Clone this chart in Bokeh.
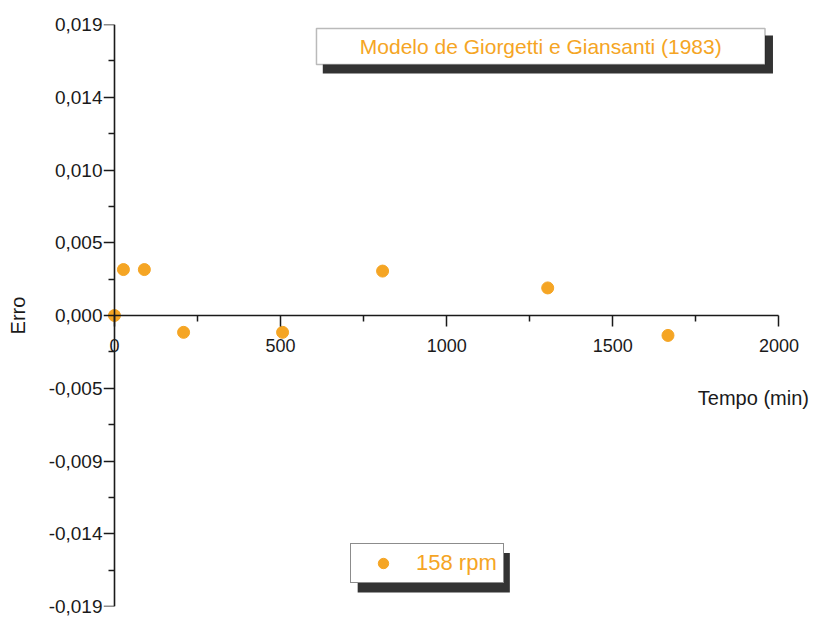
from bokeh.plotting import figure
from bokeh.models import (Range1d, FixedTicker, BoxAnnotation, Label, Legend, LegendItem,
                          LinearAxis)
from bokeh.embed import file_html
from bokeh.resources import INLINE

# ---- data ----
tempo = [0, 27, 90, 208, 506, 807, 1304, 1666]
erro = [0.0, 0.0030, 0.0030, -0.0011, -0.0011, 0.0029, 0.0018, -0.0013]
series_name = "158 rpm"
title_text = "Modelo de Giorgetti e Giansanti (1983)"

x_ticks = [0, 500, 1000, 1500, 2000]
x_minor = [250, 750, 1250, 1750]
y_ticks = [-0.019, -0.01425, -0.0095, -0.00475, 0.0, 0.00475, 0.0095, 0.01425, 0.019]
y_labels = ["-0,019", "-0,014", "-0,009", "-0,005", "0,000", "0,005", "0,010", "0,014", "0,019"]
y_minor = [-0.016625, -0.011875, -0.007125, -0.002375, 0.002375, 0.007125, 0.011875, 0.016625]

FONT = "Liberation Sans"
ORANGE = "#f5a524"
AXC = "#1a1a1a"

p = figure(width=815, height=617, output_backend="svg", toolbar_location=None,
           x_range=Range1d(-33, 2110), y_range=Range1d(-0.019, 0.019),
           y_axis_location=None,
           min_border_left=103, min_border_right=0, min_border_top=24, min_border_bottom=11)
p.outline_line_color = None
p.grid.visible = False
p.background_fill_color = "white"
p.border_fill_color = "white"

# x axis drawn at y = 0
xa = p.xaxis[0]
xa.fixed_location = 0
xa.bounds = (0, 2000)
xa.ticker = FixedTicker(ticks=x_ticks, minor_ticks=x_minor)
xa.axis_line_color = AXC
xa.axis_line_width = 1.6
xa.major_tick_line_color = AXC
xa.minor_tick_line_color = AXC
xa.major_tick_line_width = 1.5
xa.minor_tick_line_width = 1.5
xa.major_tick_out = 11
xa.major_tick_in = 0
xa.minor_tick_out = 6
xa.minor_tick_in = 0
xa.major_label_text_font = FONT
xa.major_label_text_font_size = "18px"
xa.major_label_text_color = AXC
xa.major_label_standoff = 12

# y axis line and ticks drawn at x = 0
ya = LinearAxis(fixed_location=0, bounds=(-0.019, 0.019),
                ticker=FixedTicker(ticks=y_ticks, minor_ticks=y_minor),
                major_label_overrides={t: "" for t in y_ticks},
                major_label_text_font_size="0px",
                axis_line_color=AXC, axis_line_width=1.6,
                major_tick_line_color=AXC, minor_tick_line_color=AXC,
                major_tick_line_width=1.5, minor_tick_line_width=1.5,
                major_tick_out=11, major_tick_in=0, minor_tick_out=6, minor_tick_in=0)
p.add_layout(ya, "left")

# y tick labels and axis title at the frame's left side
yl = LinearAxis(ticker=FixedTicker(ticks=y_ticks, minor_ticks=[]),
                major_label_overrides=dict(zip(y_ticks, y_labels)),
                axis_line_color=None, major_tick_line_color=None, minor_tick_line_color=None,
                major_tick_out=0, major_tick_in=0, minor_tick_out=0, minor_tick_in=0,
                major_label_text_font=FONT, major_label_text_font_size="19px",
                major_label_text_color=AXC, major_label_standoff=1,
                axis_label="Erro", axis_label_text_font=FONT,
                axis_label_text_font_size="20px", axis_label_text_font_style="normal",
                axis_label_text_color=AXC, axis_label_standoff=17)
p.add_layout(yl, "left")

# data points
r = p.scatter(tempo, erro, size=12, color=ORANGE, line_color=ORANGE)

# x axis title
p.add_layout(Label(x=2000, y=-0.0054, text="Tempo (min)", text_font=FONT,
                   text_font_size="20px", text_color=AXC, text_align="right",
                   text_baseline="middle", x_offset=30))

# title box with shadow
p.add_layout(BoxAnnotation(left=627, right=1982, top=0.01828, bottom=0.0158,
                           fill_color="#333333", fill_alpha=1, line_color=None))
p.add_layout(BoxAnnotation(left=608, right=1958, top=0.01874, bottom=0.01639,
                           fill_color="white", fill_alpha=1, line_color=AXC, line_width=1.5))
p.add_layout(Label(x=1283, y=0.01757, text=title_text, text_font=FONT,
                   text_font_size="21px", text_color=ORANGE, text_align="center",
                   text_baseline="middle"))

# legend shadow box
p.add_layout(BoxAnnotation(left=732, right=1190, top=-0.0155, bottom=-0.01809,
                           fill_color="#333333", fill_alpha=1, line_color=None))
legend = Legend(items=[LegendItem(label=series_name, renderers=[r])],
                location=(247, 23), orientation="vertical",
                label_text_font=FONT, label_text_font_size="22px",
                label_text_color=ORANGE, border_line_color=AXC, border_line_width=1.5,
                background_fill_color="white", background_fill_alpha=1,
                padding=6, margin=0, glyph_width=52, glyph_height=26,
                label_standoff=7, label_height=26)
p.add_layout(legend, "center")

open("out.html", "w").write(file_html(p, INLINE))
